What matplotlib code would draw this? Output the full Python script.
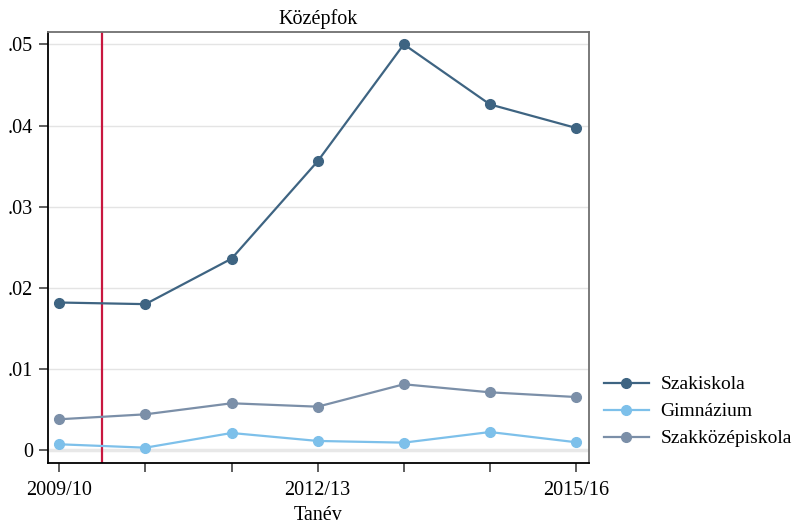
import numpy as np
import matplotlib as mpl
import matplotlib.pyplot as plt
from matplotlib.ticker import FuncFormatter

# data
YEARS = ["2009/10", "2010/11", "2011/12", "2012/13", "2013/14", "2014/15", "2015/16"]
SHOWN_LABELS = {0: "2009/10", 3: "2012/13", 6: "2015/16"}
szakiskola = [0.0182, 0.0180, 0.0236, 0.0356, 0.0500, 0.0426, 0.0397]
gimnazium = [0.00074, 0.00032, 0.00213, 0.00115, 0.00094, 0.00225, 0.00099]
szakkozep = [0.00382, 0.00443, 0.00579, 0.00537, 0.00813, 0.00714, 0.00656]
REFORM_POS = 0.5  # vertical marker between first two school years

DARK, LIGHT, GREY, RED = "#3e6482", "#7dc0ea", "#7b8fa8", "#c8173f"

mpl.rcParams.update({
    "font.family": ["Liberation Serif", "DejaVu Serif"],
    "font.size": 14.5,
})

fig = plt.figure(figsize=(7.97, 5.27), dpi=100)
ax = fig.add_axes([0.0598, 0.122, 0.6789, 0.8173])

x = np.arange(len(YEARS))
ax.axvline(REFORM_POS, color=RED, linewidth=1.6, zorder=2)
for ys, col, lab in [(szakiskola, DARK, "Szakiskola"),
                     (gimnazium, LIGHT, "Gimnázium"),
                     (szakkozep, GREY, "Szakközépiskola")]:
    ax.plot(x, ys, color=col, linewidth=1.6, marker="o", markersize=7,
            label=lab, zorder=3)

ax.set_xlim(-0.135, 6.147)
ax.set_ylim(-0.00153, 0.05152)
ax.set_yticks([0, 0.01, 0.02, 0.03, 0.04, 0.05])
ax.yaxis.set_major_formatter(FuncFormatter(
    lambda v, p: "0" if abs(v) < 1e-12 else f"{v:.2f}".lstrip("0")))
ax.set_xticks(x)
ax.set_xticklabels([SHOWN_LABELS.get(i, "") for i in x])

ax.grid(axis="y", color="#e4e4e4", linewidth=1.0, zorder=0)
ax.axhline(0, color="#e8e8e8", linewidth=2.5, zorder=1)
ax.set_axisbelow(True)

for side in ["left", "bottom"]:
    ax.spines[side].set_color("black")
    ax.spines[side].set_linewidth(1.3)
for side in ["top", "right"]:
    ax.spines[side].set_color("#707070")
    ax.spines[side].set_linewidth(1.3)
ax.tick_params(axis="both", direction="out", length=6.5, width=1.1,
               color="#333333", labelsize=14.5)
ax.tick_params(axis="x", pad=7)
ax.tick_params(axis="y", pad=4)

ax.set_title("Középfok", fontsize=14.5, pad=6)
ax.set_xlabel("Tanév", fontsize=14.5, labelpad=4)

fig.legend(loc="center left", bbox_to_anchor=(0.748, 0.219), frameon=False,
           fontsize=14, handlelength=2.3, handletextpad=0.6,
           labelspacing=0.48, borderaxespad=0)

fig.savefig("out.png", dpi=100, facecolor="white")
